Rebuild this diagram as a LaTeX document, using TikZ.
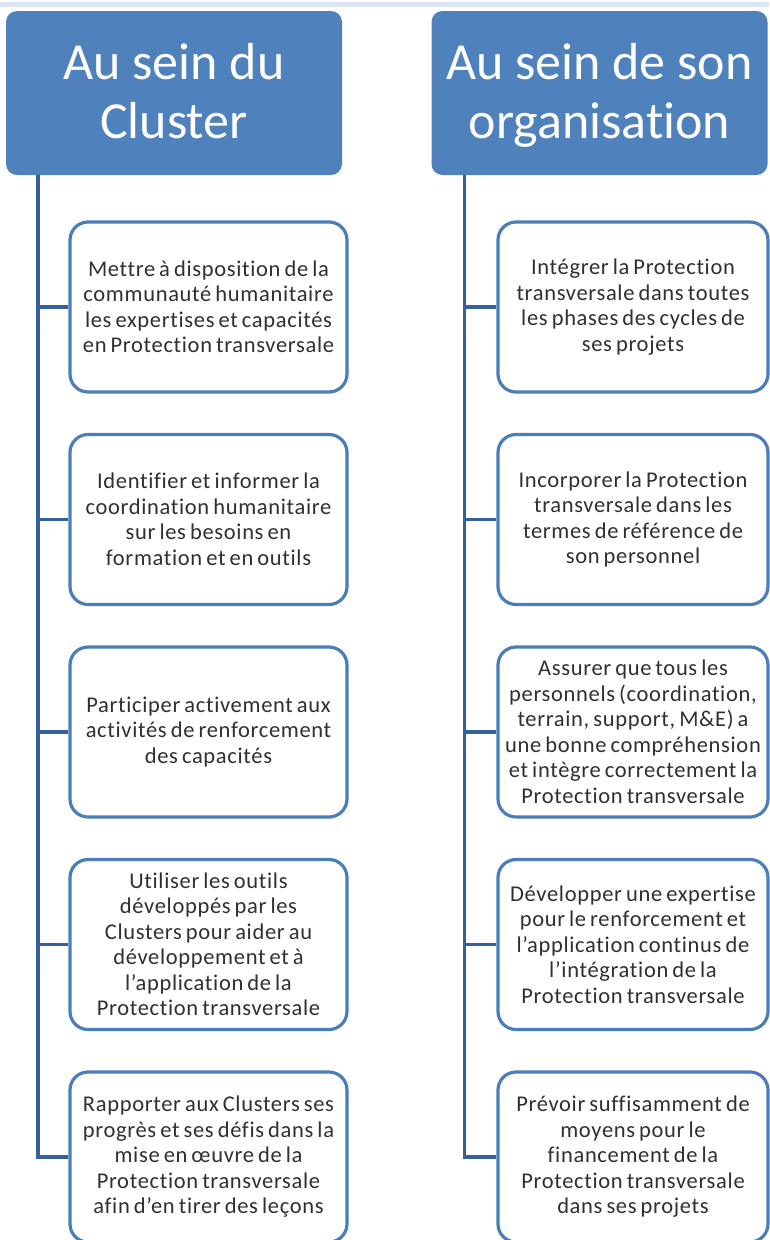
\documentclass[tikz,border=0pt]{standalone}
\usepackage{fontspec}
\setmainfont[Ligatures={NoCommon}]{Carlito}
\newfontfamily\boxfont[LetterSpace=3, WordSpace=0.7, Ligatures={NoCommon}]{Carlito}
\usetikzlibrary{calc}
\definecolor{hdrblue}{HTML}{4F81BD}
\definecolor{boxblue}{HTML}{4A7EBB}
\definecolor{connblue}{HTML}{36609A}
\definecolor{txtgray}{HTML}{303030}
\definecolor{topline}{HTML}{DCE6F2}
\tikzset{
  header/.style={draw=none, fill=hdrblue, rounded corners=11pt, minimum width=336pt, minimum height=164pt,
    text=white, align=center, inner sep=0pt, text depth=4pt, font=\fontsize{52}{59}\selectfont},
  itembox/.style={draw=boxblue, line width=3.2pt, fill=white, rounded corners=18pt, minimum height=170pt,
    text=txtgray, align=center, inner sep=0pt, font=\boxfont\fontsize{22.5}{25.5}\selectfont},
  leftbox/.style={itembox, minimum width=277pt},
  rightbox/.style={itembox, minimum width=270pt},
  conn/.style={draw=connblue, line width=3.4pt, line join=miter}
}
\begin{document}
\begin{tikzpicture}[x=1pt,y=-1pt]
\useasboundingbox (0,0) rectangle (769,1240);
\fill[topline] (0,2) rectangle (769,6.5);
% headers
\node[header] (h1) at (174,93) {Au sein du\\Cluster};
\node[header] (h2) at (599.5,93) {Au sein de son\\organisation};
% trunks
\coordinate (t1) at ($(h1.south west)+(32,0)$);
\coordinate (t2) at ($(h2.south west)+(33,0)$);
% left boxes
\node[leftbox] (l1) at (208.5,307) {Mettre à disposition de la\\communauté humanitaire\\les expertises et capacités\\en Protection transversale};
\node[leftbox] (l2) at (208.5,519.5) {Identifier et informer la\\coordination humanitaire\\sur les besoins en\\formation et en outils};
\node[leftbox] (l3) at (208.5,732) {Participer activement aux\\activités de renforcement\\des capacités};
\node[leftbox] (l4) at (208.5,944.5) {Utiliser les outils\\développés par les\\Clusters pour aider au\\développement et à\\l’application de la\\Protection transversale};
\node[leftbox] (l5) at (208.5,1157) {Rapporter aux Clusters ses\\progrès et ses défis dans la\\mise en œuvre de la\\Protection transversale\\afin d’en tirer des leçons};
% right boxes
\node[rightbox] (r1) at (633,307) {Intégrer la Protection\\transversale dans toutes\\les phases des cycles de\\ses projets};
\node[rightbox] (r2) at (633,519.5) {Incorporer la Protection\\transversale dans les\\termes de référence de\\son personnel};
\node[rightbox] (r3) at (633,732) {Assurer que tous les\\personnels (coordination,\\terrain, support, M\&E) a\\une bonne compréhension\\et intègre correctement la\\Protection transversale};
\node[rightbox] (r4) at (633,944.5) {Développer une expertise\\pour le renforcement et\\l’application continus de\\l’intégration de la\\Protection transversale};
\node[rightbox] (r5) at (633,1157) {Prévoir suffisamment de\\moyens pour le\\financement de la\\Protection transversale\\dans ses projets};
% connectors
\draw[conn] (t1) |- (l5.west);
\draw[conn] (t2) |- (r5.west);
\foreach \i in {1,2,3,4}{
  \draw[conn] (t1 |- l\i.west) -- (l\i.west);
  \draw[conn] (t2 |- r\i.west) -- (r\i.west);
}
\end{tikzpicture}
\end{document}
